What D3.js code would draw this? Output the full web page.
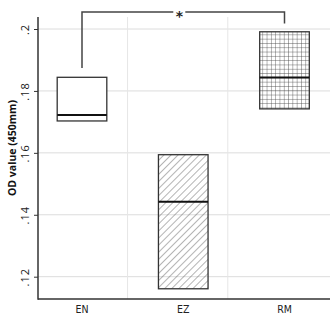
<!DOCTYPE html>
<html>
<head>
<meta charset="utf-8">
<script src="https://cdn.jsdelivr.net/npm/d3@7"></script>
<style>
  body { margin: 0; background: #fff; }
  svg { display: block; }
</style>
</head>
<body>
<script>
// data
const groups = ["EN", "EZ", "RM"]
const q1 = [0.1703, 0.1161, 0.1742]
const median = [0.1722, 0.1442, 0.1843]
const q3 = [0.1844, 0.1594, 0.1991]
const fills = ["none", "hatch", "grid"]
const yTicks = [0.12, 0.14, 0.16, 0.18, 0.2]
const yTickLabels = [".12", ".14", ".16", ".18", ".2"]
const xGrid = [1.45, 2.44]
const bracket = { from: 0, to: 2, top: 0.2055, leftEnd: 0.1874, rightEnd: 0.2018, label: "*" }

const width = 330
const height = 316

const svg = d3.select("body").append("svg")
  .attr("width", width)
  .attr("height", height)

const x = d3.scaleLinear().domain([1, 3]).range([82, 284.5])
const y = d3.scaleLinear().domain([0.12, 0.2]).range([276.7, 29])
const plotLeft = 38, plotRight = 330, plotBottom = 299, plotTop = 17
const boxW = x(1.49) - x(1)

// patterns
const defs = svg.append("defs")
const hatch = defs.append("pattern")
  .attr("id", "hatch")
  .attr("patternUnits", "userSpaceOnUse")
  .attr("width", 5).attr("height", 5)
  .attr("patternTransform", "rotate(45)")
hatch.append("line")
  .attr("x1", 0).attr("y1", 0).attr("x2", 0).attr("y2", 5)
  .attr("stroke", "#444").attr("stroke-width", 0.8)

const grid = defs.append("pattern")
  .attr("id", "grid")
  .attr("patternUnits", "userSpaceOnUse")
  .attr("width", 4.3).attr("height", 4.3)
grid.append("path")
  .attr("d", "M0,0V4.3M0,0H4.3")
  .attr("fill", "none").attr("stroke", "#444").attr("stroke-width", 0.8)

// gridlines
svg.append("g")
  .selectAll("line")
  .data(yTicks)
  .enter()
  .append("line")
  .attr("x1", plotLeft).attr("x2", plotRight)
  .attr("y1", d => y(d)).attr("y2", d => y(d))
  .attr("stroke", "#dcdcdc").attr("stroke-width", 1)

svg.append("g")
  .selectAll("line")
  .data(xGrid)
  .enter()
  .append("line")
  .attr("x1", d => x(d)).attr("x2", d => x(d))
  .attr("y1", plotTop).attr("y2", plotBottom)
  .attr("stroke", "#e6e6e6").attr("stroke-width", 1)

// boxes
const boxes = svg.append("g")
  .selectAll("g")
  .data(groups)
  .enter()
  .append("g")

boxes.append("rect")
  .attr("x", (d, i) => x(i + 1) - boxW / 2)
  .attr("width", boxW)
  .attr("y", (d, i) => y(q3[i]))
  .attr("height", (d, i) => y(q1[i]) - y(q3[i]))
  .attr("fill", (d, i) => fills[i] === "none" ? "#fff" : `url(#${fills[i]})`)
  .attr("stroke", "#333")
  .attr("stroke-width", 1.3)

boxes.append("line")
  .attr("x1", (d, i) => x(i + 1) - boxW / 2)
  .attr("x2", (d, i) => x(i + 1) + boxW / 2)
  .attr("y1", (d, i) => y(median[i]))
  .attr("y2", (d, i) => y(median[i]))
  .attr("stroke", "#111")
  .attr("stroke-width", 2)

// axes
const yAxis = svg.append("g")
  .attr("transform", `translate(${plotLeft},0)`)
  .call(d3.axisLeft(y).tickValues(yTicks).tickSize(4).tickPadding(5)
    .tickFormat((d, i) => yTickLabels[i]))
yAxis.select(".domain").remove()
yAxis.selectAll(".tick line").attr("stroke", "#333")
yAxis.selectAll(".tick text")
  .attr("transform", "rotate(-90)")
  .attr("x", 0).attr("y", -13)
  .attr("dy", "0.35em")
  .attr("text-anchor", "middle")
  .style("font-family", "'Open Sans', sans-serif")
  .style("font-size", "11px")
  .style("letter-spacing", "1px")
  .attr("fill", "#222")

svg.append("line")
  .attr("x1", plotLeft).attr("x2", plotLeft)
  .attr("y1", plotTop).attr("y2", plotBottom + 0.75)
  .attr("stroke", "#333").attr("stroke-width", 1.5)
svg.append("line")
  .attr("x1", plotLeft).attr("x2", plotRight)
  .attr("y1", plotBottom).attr("y2", plotBottom)
  .attr("stroke", "#333").attr("stroke-width", 1.5)

svg.append("g")
  .selectAll("text")
  .data(groups)
  .enter()
  .append("text")
  .text(d => d)
  .attr("x", (d, i) => x(i + 1))
  .attr("y", 313)
  .attr("text-anchor", "middle")
  .style("font-family", "'DejaVu Sans Condensed', 'DejaVu Sans', sans-serif")
  .style("font-stretch", "condensed")
  .style("font-size", "10.5px")
  .attr("fill", "#222")

svg.append("text")
  .text("OD value (450mm)")
  .attr("transform", `translate(16,${148}) rotate(-90)`)
  .attr("text-anchor", "middle")
  .style("font-family", "'Open Sans', sans-serif")
  .style("font-weight", "bold")
  .style("font-size", "10.5px")
  .attr("fill", "#111")

// significance bracket
const bx1 = x(bracket.from + 1), bx2 = x(bracket.to + 1)
const by = y(bracket.top)
const mid = 179.3
svg.append("path")
  .attr("d", `M${bx1},${y(bracket.leftEnd)}V${by}H${mid - 6}M${mid + 6},${by}H${bx2}V${y(bracket.rightEnd)}`)
  .attr("fill", "none")
  .attr("stroke", "#444")
  .attr("stroke-width", 1.5)
svg.append("text")
  .text(bracket.label)
  .attr("x", mid).attr("y", by + 9)
  .attr("text-anchor", "middle")
  .style("font-family", "'DejaVu Sans', sans-serif")
  .style("font-weight", "bold")
  .style("font-size", "14px")
  .attr("fill", "#222")
</script>
</body>
</html>
